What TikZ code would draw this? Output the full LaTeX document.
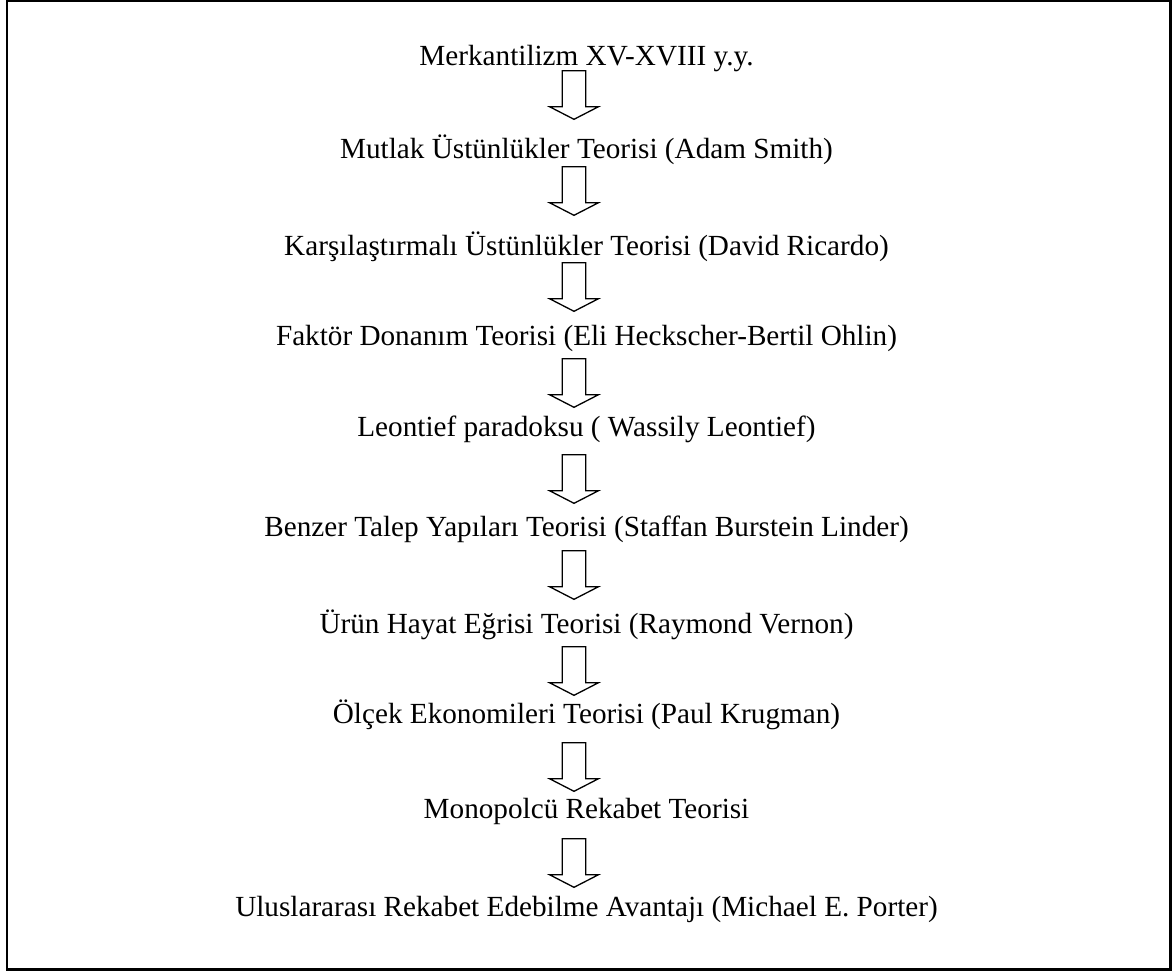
\documentclass[tikz,border=0pt]{standalone}
\usepackage{fontspec}
\setmainfont{Liberation Serif}
\begin{document}
\begin{tikzpicture}[x=1pt,y=-1pt,
  lbl/.style={anchor=base,inner sep=0pt,font=\fontsize{29.2}{32}\selectfont},
  frame/.style={line width=2.2pt},
  blockarrow/.pic={\draw[line width=1.3pt,line join=miter]
     (-11.7,0) -- (-11.7,36) -- (-24.5,36) -- (0,48.6) -- (24.5,36) -- (11.7,36) -- (11.7,0) -- cycle;}]
\useasboundingbox (0,0) rectangle (1173,972);
\draw[frame] (7,1) rectangle (1170.5,969.5);

\node[lbl] (t1) at (586.5,65) {Merkantilizm XV-XVIII y.y.};
\node[lbl] (t2) at (586.5,158.3) {Mutlak Üstünlükler Teorisi (Adam Smith)};
\node[lbl] (t3) at (586.5,255) {Karşılaştırmalı Üstünlükler Teorisi (David Ricardo)};
\node[lbl] (t4) at (586.5,345) {Faktör Donanım Teorisi (Eli Heckscher-Bertil Ohlin)};
\node[lbl] (t5) at (586.5,436.7) {Leontief paradoksu ( Wassily Leontief)};
\node[lbl] (t6) at (586.5,536.7) {Benzer Talep Yapıları Teorisi (Staffan Burstein Linder)};
\node[lbl] (t7) at (586.5,633.3) {Ürün Hayat Eğrisi Teorisi (Raymond Vernon)};
\node[lbl] (t8) at (586.5,723.3) {Ölçek Ekonomileri Teorisi (Paul Krugman)};
\node[lbl] (t9) at (586.5,818.3) {Monopolcü Rekabet Teorisi};
\node[lbl] (t10) at (586.5,916.7) {Uluslararası Rekabet Edebilme Avantajı (Michael E. Porter)};

\foreach \i in {0,...,8} {
  \coordinate (a\i) at (574,70.7+96*\i);
  \pic at (a\i) {blockarrow};
}
\end{tikzpicture}
\end{document}
